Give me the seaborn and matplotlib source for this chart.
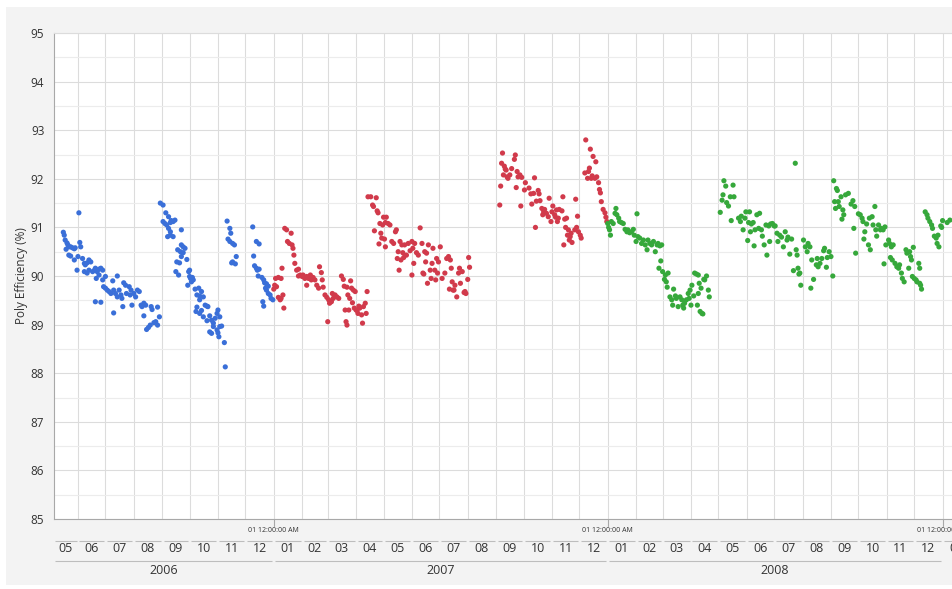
import numpy as np
import pandas as pd
import matplotlib
matplotlib.use("Agg")
import matplotlib.pyplot as plt
import matplotlib.dates as mdates
from matplotlib.ticker import MultipleLocator
from matplotlib.patches import Rectangle
import seaborn as sns

# Daily polytropic efficiency readings; day numbers count from 2006-05-01.
# --- 2006 (blue) ---
may_aug_2006_days = [15, 16, 17, 19, 20, 21, 23, 25, 27, 28,
                     32, 33, 34, 18, 21, 23, 27, 30, 31, 36,
                     38, 39, 41, 43, 45, 38, 41, 43, 47, 49,
                     50, 52, 54, 56, 58, 51, 54, 58, 61, 50,
                     56, 59, 61, 63, 65, 67, 69, 70, 72, 74,
                     74, 76, 78, 79, 80, 70, 81, 83, 84, 87,
                     88, 89, 90, 92, 94, 96, 98, 100, 101, 103,
                     105, 103, 106, 108, 110, 111, 112, 114, 116, 118,
                     118, 120]
may_aug_2006_eff = [90.90, 90.84, 90.74, 90.68, 90.64, 90.60, 90.60, 90.58, 90.56, 90.58,
                    91.30, 90.69, 90.60, 90.55, 90.43, 90.41, 90.33, 90.12, 90.40, 90.36,
                    90.26, 90.23, 90.27, 90.33, 90.29, 90.09, 90.06, 90.12, 90.09, 90.12,
                    90.16, 90.09, 90.14, 90.16, 90.12, 89.95, 90.02, 89.92, 89.99, 89.47,
                    89.46, 89.78, 89.75, 89.71, 89.68, 89.64, 89.90, 89.71, 89.64, 90.00,
                    89.57, 89.71, 89.61, 89.54, 89.37, 89.24, 89.86, 89.81, 89.64, 89.78,
                    89.61, 89.71, 89.40, 89.64, 89.57, 89.71, 89.68, 89.40, 89.37, 89.44,
                    89.40, 89.18, 88.90, 88.94, 88.99, 89.37, 89.31, 89.04, 89.06, 88.99,
                    89.36, 89.16]

sep_oct_2006_days = [121, 124, 127, 130, 124, 126, 128, 132, 133, 135,
                     137, 130, 132, 129, 132, 135, 144, 140, 143, 144,
                     146, 148, 146, 144, 150, 139, 142, 138, 141, 152,
                     153, 153, 154, 156, 157, 155, 151, 159, 163, 161,
                     164, 166, 168, 164, 170, 172, 173, 161, 160, 164,
                     166, 168, 172, 175, 177, 179, 181, 183, 184, 186,
                     179, 175, 177, 183, 184, 186, 188, 185, 191, 192]
sep_oct_2006_eff = [91.50, 91.46, 91.30, 91.22, 91.12, 91.08, 91.05, 91.10, 91.14, 91.12,
                    91.15, 90.98, 90.91, 90.81, 90.84, 90.81, 90.95, 90.54, 90.50, 90.64,
                    90.60, 90.57, 90.48, 90.40, 90.34, 90.29, 90.27, 90.09, 90.02, 90.09,
                    90.12, 89.99, 89.95, 89.97, 89.92, 89.88, 89.81, 89.73, 89.75, 89.61,
                    89.59, 89.68, 89.57, 89.51, 89.40, 89.38, 89.37, 89.36, 89.27, 89.23,
                    89.29, 89.16, 89.08, 89.18, 89.09, 89.03, 89.13, 89.23, 89.30, 89.16,
                    88.96, 88.85, 88.82, 88.89, 88.83, 88.96, 88.97, 88.75, 88.63, 88.13]

nov_2006_days = [194, 197, 198, 195, 197, 200, 202, 204, 200, 203, 199]
nov_2006_eff = [91.13, 90.98, 90.88, 90.76, 90.71, 90.67, 90.64, 90.40, 90.29, 90.25, 90.27]

dec_2006_days = [222, 226, 229, 223, 224, 226, 227, 229, 228, 232,
                 234, 235, 237, 239, 236, 239, 241, 242, 244, 233,
                 234, 237]
dec_2006_eff = [91.01, 90.71, 90.66, 90.41, 90.21, 90.16, 90.12, 90.14, 90.00, 89.97,
                89.92, 89.86, 89.84, 89.79, 89.75, 89.64, 89.61, 89.54, 89.51, 89.47,
                89.38, 89.71]

# --- 2007 (red) ---
jan_mar_2007_days = [247, 250, 253, 246, 248, 245, 254, 250, 253, 255,
                     256, 252, 257, 259, 264, 260, 262, 265, 266, 267,
                     268, 270, 272, 272, 274, 276, 277, 279, 281, 283,
                     285, 286, 288, 281, 290, 292, 294, 295, 297, 298,
                     299, 301, 303, 305, 306, 308, 310, 312, 314, 316,
                     309, 304, 319, 321, 322, 325, 326, 328, 330, 332,
                     334, 329, 323, 327, 324, 325, 331, 333, 335, 336,
                     337, 339, 341, 343, 345, 347, 346, 342, 338]
jan_mar_2007_eff = [89.95, 89.97, 89.95, 89.81, 89.78, 89.73, 90.16, 89.56, 89.54, 89.61,
                    89.34, 89.51, 90.98, 90.95, 90.88, 90.71, 90.67, 90.64, 90.57, 90.43,
                    90.26, 90.12, 90.00, 90.14, 90.02, 89.99, 90.02, 89.95, 89.99, 89.95,
                    90.02, 89.92, 89.97, 89.81, 89.92, 89.81, 89.75, 90.19, 90.07, 89.92,
                    89.77, 89.61, 89.56, 89.51, 89.44, 89.47, 89.54, 89.61, 89.57, 89.54,
                    89.64, 89.06, 90.00, 89.93, 89.79, 89.77, 89.61, 89.54, 89.75, 89.71,
                    89.68, 89.90, 89.30, 89.30, 89.06, 88.99, 89.45, 89.34, 89.30, 89.29,
                    89.23, 89.34, 89.20, 89.37, 89.44, 89.68, 89.23, 89.03, 89.38]

apr_jul_2007_days = [348, 351, 357, 353, 354, 358, 359, 365, 368, 361,
                     364, 367, 370, 372, 355, 362, 363, 366, 360, 367,
                     374, 378, 379, 376, 381, 383, 385, 388, 392, 396,
                     380, 384, 387, 386, 382, 390, 394, 397, 399, 405,
                     401, 398, 396, 403, 407, 410, 412, 414, 411, 408,
                     409, 416, 418, 419, 421, 423, 425, 427, 413, 417,
                     422, 424, 429, 432, 434, 436, 438, 439, 437, 440,
                     442, 458, 459, 457, 454, 453, 455, 445, 449, 447,
                     451, 448, 441, 443]
apr_jul_2007_eff = [91.63, 91.63, 91.61, 91.46, 91.43, 91.34, 91.30, 91.21, 91.21, 91.08,
                    91.05, 91.10, 91.08, 91.05, 90.93, 90.88, 90.78, 90.76, 90.66, 90.60,
                    90.71, 90.91, 90.95, 90.67, 90.50, 90.71, 90.64, 90.64, 90.67, 90.71,
                    90.36, 90.33, 90.38, 90.48, 90.12, 90.43, 90.52, 90.57, 90.67, 90.99,
                    90.48, 90.26, 90.02, 90.43, 90.67, 90.50, 90.47, 90.64, 90.29, 90.06,
                    90.04, 90.12, 90.26, 90.57, 90.12, 90.36, 90.29, 90.60, 89.85, 89.95,
                    89.92, 90.06, 89.95, 90.06, 90.36, 90.40, 90.33, 90.16, 89.73, 89.88,
                    89.71, 90.38, 90.18, 89.93, 89.68, 89.66, 89.64, 89.57, 89.85, 90.06,
                    90.09, 90.16, 89.71, 89.81]

sep_dec_2007_days = [492, 493, 495, 494, 497, 498, 496, 500, 501, 503,
                     499, 505, 508, 509, 511, 512, 514, 516, 510, 515,
                     519, 520, 524, 526, 529, 530, 534, 535, 527, 532,
                     536, 531, 538, 540, 541, 539, 543, 545, 546, 549,
                     550, 552, 553, 548, 554, 557, 560, 561, 556, 555,
                     563, 565, 564, 562, 567, 566, 569, 568, 571, 570,
                     574, 576, 578, 580, 581, 575, 577, 586, 591, 594,
                     597, 585, 589, 590, 588, 592, 593, 596, 598, 600,
                     601, 602, 603, 605, 607, 608, 609]
sep_dec_2007_eff = [91.46, 91.85, 92.53, 92.32, 92.26, 92.20, 92.08, 92.04, 92.01, 92.08,
                    92.18, 92.21, 92.40, 92.49, 92.15, 92.04, 92.08, 92.03, 91.82, 91.44,
                    91.77, 91.92, 91.81, 91.69, 91.70, 92.02, 91.76, 91.69, 91.48, 91.54,
                    91.55, 91.00, 91.39, 91.32, 91.37, 91.26, 91.29, 91.22, 91.60, 91.32,
                    91.44, 91.26, 91.21, 91.12, 91.36, 91.37, 91.34, 91.63, 91.19, 91.12,
                    91.17, 91.19, 91.00, 90.64, 90.95, 90.84, 90.81, 90.74, 90.69, 90.88,
                    90.95, 91.00, 90.91, 90.84, 90.78, 91.58, 91.23, 92.80, 92.61, 92.46,
                    92.35, 92.12, 92.15, 92.22, 92.01, 92.01, 92.06, 92.01, 92.04, 91.92,
                    91.78, 91.71, 91.53, 91.37, 91.30, 91.21, 91.12]

# --- 2008 (green) ---
jan_apr_2008_days = [611, 612, 613, 610, 614, 616, 618, 619, 620, 622,
                     623, 625, 627, 629, 631, 632, 634, 636, 638, 639,
                     641, 642, 643, 645, 647, 649, 651, 653, 654, 656,
                     658, 660, 662, 664, 665, 667, 669, 668, 666, 670,
                     673, 676, 672, 674, 675, 678, 680, 681, 682, 684,
                     685, 687, 689, 691, 692, 693, 694, 696, 698, 700,
                     702, 699, 701, 704, 705, 707, 709, 708, 711, 713,
                     714, 710, 712, 715, 716, 718, 720, 721, 709]
jan_apr_2008_eff = [91.00, 90.95, 90.84, 91.08, 91.12, 91.08, 91.29, 91.39, 91.26, 91.19,
                    91.12, 91.10, 91.08, 90.96, 90.91, 90.95, 90.89, 90.91, 90.96, 90.84,
                    90.71, 91.28, 90.81, 90.78, 90.67, 90.74, 90.64, 90.54, 90.74, 90.67,
                    90.64, 90.71, 90.50, 90.64, 90.67, 90.62, 90.64, 90.31, 90.16, 90.09,
                    90.02, 90.06, 89.93, 89.88, 89.77, 89.57, 89.51, 89.40, 89.73, 89.59,
                    89.54, 89.37, 89.57, 89.51, 89.40, 89.34, 89.44, 89.51, 89.64, 89.71,
                    89.81, 89.54, 89.40, 89.59, 90.06, 90.04, 90.02, 89.40, 89.27, 89.23,
                    89.22, 89.85, 89.75, 89.93, 89.92, 90.00, 89.71, 89.57, 89.64]

may_aug_2008_days = [733, 735, 736, 737, 739, 740, 742, 744, 747, 748,
                     745, 753, 755, 756, 758, 760, 761, 763, 764, 765,
                     767, 769, 766, 770, 771, 773, 775, 776, 778, 779,
                     781, 783, 784, 786, 787, 788, 790, 792, 793, 795,
                     796, 798, 800, 802, 804, 806, 807, 809, 811, 813,
                     815, 816, 817, 818, 820, 821, 819, 824, 826, 828,
                     829, 831, 833, 835, 832, 838, 839, 840, 842, 844,
                     846, 847, 849, 850, 852, 854, 856]
may_aug_2008_eff = [91.31, 91.56, 91.67, 91.96, 91.85, 91.51, 91.44, 91.63, 91.87, 91.63,
                    91.14, 91.19, 91.12, 91.23, 90.95, 91.19, 91.32, 90.73, 91.10, 91.32,
                    91.07, 91.10, 90.91, 90.62, 90.95, 91.26, 90.98, 91.29, 90.95, 90.82,
                    90.64, 91.05, 90.43, 91.03, 90.71, 91.07, 91.08, 91.03, 91.03, 90.88,
                    90.71, 90.84, 90.80, 90.60, 90.91, 90.74, 90.80, 90.45, 90.76, 90.11,
                    92.32, 90.54, 90.43, 90.16, 90.06, 89.81, 90.04, 90.74, 90.60, 90.50,
                    90.67, 90.60, 90.33, 89.93, 89.75, 90.23, 90.36, 90.19, 90.26, 90.36,
                    90.52, 90.57, 90.18, 90.38, 90.50, 90.40, 90.00]

sep_nov_2008_days = [857, 860, 861, 858, 862, 863, 859, 865, 867, 868,
                     866, 870, 873, 876, 878, 880, 879, 881, 884, 886,
                     888, 889, 890, 891, 893, 895, 896, 897, 899, 900,
                     902, 903, 904, 906, 908, 909, 911, 913, 912, 914,
                     917, 918, 920, 922, 919, 921, 924, 926, 928, 929,
                     931, 932, 934, 936, 937, 940, 941, 942, 939, 944,
                     943, 945, 947, 948, 951, 952, 953, 950, 951]
sep_nov_2008_eff = [91.96, 91.80, 91.76, 91.53, 91.53, 91.43, 91.39, 91.63, 91.36, 91.26,
                    91.17, 91.67, 91.70, 91.48, 91.55, 91.43, 90.98, 90.47, 91.28, 91.26,
                    91.19, 91.12, 90.76, 90.91, 91.07, 90.64, 91.19, 90.54, 91.22, 91.05,
                    91.43, 90.95, 90.82, 91.05, 90.95, 90.98, 90.95, 91.01, 90.25, 90.64,
                    90.74, 90.67, 90.60, 90.64, 90.38, 90.33, 90.26, 90.19, 90.16, 90.23,
                    90.06, 89.95, 89.88, 90.54, 90.47, 90.50, 90.40, 90.33, 90.16, 90.59,
                    89.99, 89.95, 89.92, 89.88, 89.85, 89.81, 89.73, 90.26, 90.16]

dec_2008_days = [957, 959, 960, 962, 964, 965, 967, 969, 970, 972, 971, 974, 976, 975, 981, 984]
dec_2008_eff = [91.32, 91.26, 91.19, 91.12, 91.05, 90.98, 90.82, 90.78, 90.67, 90.60,
                90.84, 91.03, 91.14, 91.00, 91.10, 91.15]

period_colors = {"2006": "#3a6fd8", "2007": "#d13a4b", "2008": "#36a83b"}
year_labels = ["2006", "2007", "2008"]
y_ticks = [85, 86, 87, 88, 89, 90, 91, 92, 93, 94, 95]
y_label = "Poly Efficiency (%)"
midnight_label = "01 12:00:00 AM"

segments = [
    ("2006", may_aug_2006_days, may_aug_2006_eff),
    ("2006", sep_oct_2006_days, sep_oct_2006_eff),
    ("2006", nov_2006_days, nov_2006_eff),
    ("2006", dec_2006_days, dec_2006_eff),
    ("2007", jan_mar_2007_days, jan_mar_2007_eff),
    ("2007", apr_jul_2007_days, apr_jul_2007_eff),
    ("2007", sep_dec_2007_days, sep_dec_2007_eff),
    ("2008", jan_apr_2008_days, jan_apr_2008_eff),
    ("2008", may_aug_2008_days, may_aug_2008_eff),
    ("2008", sep_nov_2008_days, sep_nov_2008_eff),
    ("2008", dec_2008_days, dec_2008_eff),
]

origin = pd.Timestamp("2006-05-01")
frames = []
for period, d, e in segments:
    frames.append(pd.DataFrame({
        "date": origin + pd.to_timedelta(np.asarray(d, dtype=float), unit="D"),
        "eff": e,
        "period": period,
    }))
df = pd.concat(frames, ignore_index=True)

sns.set_style("white")
plt.rcParams["font.family"] = ["Open Sans", "DejaVu Sans"]

W, H = 952, 589
# Light grey panel with a thin white margin at the top/left/bottom
fig = plt.figure(figsize=(W / 100, H / 100), dpi=100, facecolor="#f3f3f3")
for rect in [(0, 0, 6 / W, 1), (0, (H - 7) / H, 1, 7 / H), (0, 0, 1, 4 / H)]:
    fig.patches.append(Rectangle(rect[:2], rect[2], rect[3], transform=fig.transFigure,
                                 facecolor="white", edgecolor="none", zorder=-5))

ax_left, ax_top, ax_bottom = 54, 33, 519
ax = fig.add_axes([ax_left / W, (H - ax_bottom) / H, (W - ax_left) / W, (ax_bottom - ax_top) / H])
ax.set_zorder(2)
ax.set_facecolor("white")

sns.scatterplot(data=df, x="date", y="eff", hue="period", palette=period_colors,
                s=14, linewidth=0, alpha=1.0, legend=False, ax=ax, zorder=3)

x_min = origin + pd.Timedelta(days=4.8)
x_max = origin + pd.Timedelta(days=986.3)
ax.set_xlim(x_min, x_max)
ax.set_ylim(85, 95)

# Axis styling
ax.set_yticks(y_ticks)
ax.yaxis.set_minor_locator(MultipleLocator(0.5))
ax.tick_params(axis="y", which="major", length=5, width=0.8, color="#a0a0a0",
               labelsize=8.5, labelcolor="#333333", pad=2)
ax.tick_params(axis="y", which="minor", length=3, width=0.8, color="#b8b8b8")
ax.xaxis.set_major_locator(mdates.MonthLocator())
ax.tick_params(axis="x", which="major", length=3, width=0.8, color="#c8c8c8", labelbottom=False)
ax.grid(True, which="major", axis="both", color="#dcdcdc", linewidth=0.8, zorder=0)
ax.grid(True, which="minor", axis="y", color="#ececec", linewidth=0.8, zorder=0)
ax.set_axisbelow(True)
for side in ("left", "bottom"):
    ax.spines[side].set_color("#a8a8a8")
    ax.spines[side].set_linewidth(0.8)
ax.spines["top"].set_color("#dcdcdc")
ax.spines["right"].set_visible(False)

ax.set_xlabel("")
ax.set_ylabel(y_label, fontsize=8.5, color="#333333")
ax.yaxis.set_label_coords(-(ax_left - 28) / (W - ax_left), 0.5)

# Hierarchical date axis drawn beneath the plot
trans = ax.get_xaxis_transform()
axes_h = ax_bottom - ax_top


def fy(ypx):
    return (ax_bottom - ypx) / axes_h


xmin_num = mdates.date2num(x_min)
gap = 1.6
months = pd.date_range("2006-05-01", "2009-01-01", freq="MS")
for m in months:
    nxt = m + pd.offsets.MonthBegin(1)
    a = max(mdates.date2num(m), xmin_num)
    b = mdates.date2num(nxt)
    ax.text((a + b) / 2, fy(549), f"{m.month:02d}", transform=trans, ha="center",
            va="center", fontsize=9, color="#333333", clip_on=False)
    ax.plot([a + gap, b - gap], [fy(541), fy(541)], transform=trans, color="#bdbdbd",
            linewidth=0.8, clip_on=False, solid_capstyle="butt")

for yl in year_labels:
    a = max(mdates.date2num(pd.Timestamp(f"{yl}-01-01")), xmin_num)
    b = mdates.date2num(pd.Timestamp(f"{int(yl) + 1}-01-01"))
    ax.text((a + b) / 2, fy(571), yl, transform=trans, ha="center", va="center",
            fontsize=9, color="#333333", clip_on=False)
    ax.plot([a + gap, b - gap], [fy(561), fy(561)], transform=trans, color="#bdbdbd",
            linewidth=0.8, clip_on=False, solid_capstyle="butt")

for yr in (2007, 2008, 2009):
    jx = mdates.date2num(pd.Timestamp(f"{yr}-01-01"))
    ax.plot([jx, jx], [fy(519), fy(526)], transform=trans, color="#a8a8a8",
            linewidth=0.8, clip_on=False)
    ax.text(jx, fy(531), midnight_label, transform=trans, ha="center", va="center",
            fontsize=5, color="#333333", clip_on=False)

ax.set_xlim(x_min, x_max)
fig.savefig("out.png", dpi=100, facecolor=fig.get_facecolor())
